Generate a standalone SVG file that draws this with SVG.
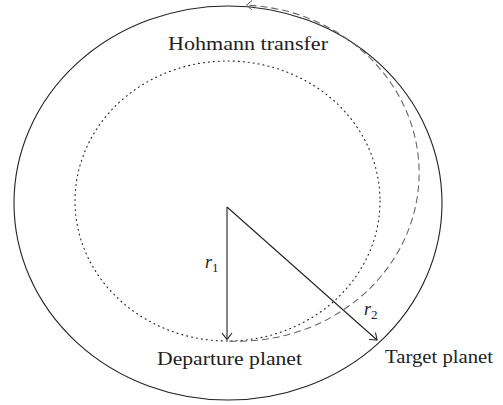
<svg xmlns="http://www.w3.org/2000/svg" width="503" height="405" viewBox="0 0 503 405">
<style>
text{font-family:'Liberation Serif','Times New Roman','DejaVu Serif',serif;font-size:18px;fill:#222}
.it{font-style:italic}
.sub{font-size:13px;font-style:normal}
.ln{fill:none;stroke:#222;stroke-width:1.1}
.ah{fill:none;stroke:#222;stroke-width:1.1}
</style>
<rect width="503" height="405" fill="#fff"/>
<g id="target-orbit"><ellipse cx="228" cy="203" rx="214" ry="197" class="ln"/></g>
<g id="departure-orbit"><ellipse cx="227.5" cy="201" rx="152.5" ry="140" fill="none" stroke="#222" stroke-width="1.1" stroke-dasharray="1 4" stroke-linecap="round"/></g>
<g id="transfer">
<path d="M 229 341 A 181 168 0 0 0 247 5.2" fill="none" stroke="#666" stroke-width="1.1" stroke-dasharray="7 4"/>
<path d="M 252 0.5 L 246.5 5.2 L 252 10" fill="none" stroke="#666" stroke-width="1"/>
<text x="168" y="50" font-family="Liberation Serif, serif" textLength="160" lengthAdjust="spacingAndGlyphs">Hohmann transfer</text>
</g>
<g id="connectors">
<line x1="227" y1="207" x2="227" y2="339" class="ln"/>
<path d="M 222 333 L 227 339.5 L 232 333" class="ah"/>
<line x1="227" y1="207" x2="377" y2="340" class="ln"/>
<path d="M 369 339.5 L 377 340 L 375.5 332.5" class="ah"/>
</g>
<g id="r1"><text x="205" y="268" class="it" font-family="Liberation Serif, serif">r<tspan class="sub" dy="4">1</tspan></text></g>
<g id="r2"><text x="364" y="315" class="it" font-family="Liberation Serif, serif">r<tspan class="sub" dy="4">2</tspan></text></g>
<g id="departure-planet"><text x="157" y="365" font-family="Liberation Serif, serif" textLength="145" lengthAdjust="spacingAndGlyphs">Departure planet</text></g>
<g id="target-planet"><text x="385" y="363" font-family="Liberation Serif, serif" textLength="108" lengthAdjust="spacingAndGlyphs">Target planet</text></g>
</svg>
